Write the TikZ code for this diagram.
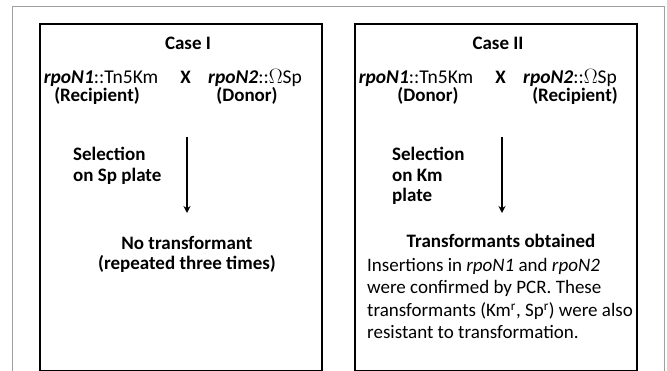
\documentclass[tikz,border=0pt]{standalone}
\usepackage{fontspec}
\setmainfont{Carlito}
\usetikzlibrary{arrows.meta,positioning}
\newcommand{\figfont}{\fontsize{19pt}{20.5pt}\selectfont}
\newcommand{\strfont}{\fontsize{19.5pt}{22pt}\selectfont}
\newcommand{\notefont}{\fontsize{19pt}{22.5pt}\selectfont}
\newcommand{\gene}[1]{\textbf{\textit{#1}}}
\tikzset{
  outerfrm/.style={draw=gray!75,line width=0.8pt},
  casefrm/.style={draw=black,line width=2pt},
  txt/.style={font=\strfont,inner sep=0pt,anchor=base},
  lbl/.style={txt,font=\figfont\bfseries},
  arr/.style={-{Stealth[length=7pt,width=7pt]},line width=1.8pt}
}
\begin{document}
\begin{tikzpicture}[x=1pt,y=-1pt]
  \useasboundingbox (0,0) rectangle (667,371);
  \clip (0,0) rectangle (667,371);
  % frames
  \draw[outerfrm] (12.5,380) -- (12.5,6.5) -- (664,6.5) -- (664,380);
  \draw[casefrm] (40,24) rectangle (322,371.5);
  \draw[casefrm] (355,24) rectangle (637,371.5);

  % Case I
  \node[lbl] (caseA) at (188,50) {Case I};
  \node[txt] (strA1) at (101,84) {\gene{rpoN1}::Tn5Km};
  \node[lbl] (xA) at (185.5,84) {X};
  \node[txt] (strA2) at (255,84) {\gene{rpoN2}::$\Omega$Sp};
  \node[lbl] (roleA1) at (97,102) {(Recipient)};
  \node[lbl] (roleA2) at (247,102) {(Donor)};
  \node[lbl,align=left,anchor=north west] (selA) at (73,147) {Selection\\on Sp plate};
  \coordinate (topA) at (187,137);
  \coordinate (botA) at (187,213);
  \node[lbl,align=center,anchor=north] (resA) at (187,236) {No transformant\\(repeated three times)};
  \draw[arr] (topA) -- (botA);

  % Case II
  \node[lbl] (caseB) at (498,50) {Case II};
  \node[txt] (strB1) at (416,84) {\gene{rpoN1}::Tn5Km};
  \node[lbl] (xB) at (500.5,84) {X};
  \node[txt] (strB2) at (570,84) {\gene{rpoN2}::$\Omega$Sp};
  \node[lbl] (roleB1) at (428,102) {(Donor)};
  \node[lbl] (roleB2) at (575,102) {(Recipient)};
  \node[lbl,align=left,anchor=north west] (selB) at (392,147) {Selection\\on Km\\plate};
  \coordinate (topB) at (502,137);
  \coordinate (botB) at (502,213);
  \node[lbl] (resB) at (501,248) {Transformants obtained};
  \node[txt,align=left,anchor=north west,font=\notefont] (noteB) at (367,258)
    {Insertions in \textit{rpoN1} and \textit{rpoN2}\\were confirmed by PCR. These\\transformants (Km\textsuperscript{r}, Sp\textsuperscript{r}) were also\\resistant to transformation.};
  \draw[arr] (topB) -- (botB);
\end{tikzpicture}
\end{document}
